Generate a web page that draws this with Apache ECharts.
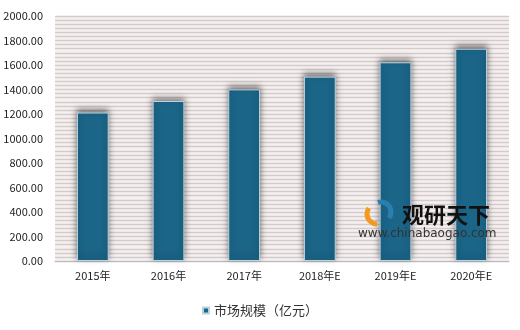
<!DOCTYPE html>
<html><head><meta charset="utf-8">
<script src="https://cdn.jsdelivr.net/npm/echarts@6/dist/echarts.min.js"></script>
<style>html,body{margin:0;padding:0;background:#fff}#c{width:520px;height:330px}</style>
</head><body><div id="c"></div>
<script>
const categories = ['2015年','2016年','2017年','2018年E','2019年E','2020年E'];
const marketSize = [1212, 1306, 1401, 1505, 1622, 1733];
const seriesName = '市场规模（亿元）';
const yTicks = {min: 0, max: 2000, interval: 200};

const chart = echarts.init(document.getElementById('c'));
const font = 'SimSun, "Noto Sans CJK SC", sans-serif';
chart.setOption({
  animation: false,
  grid: {left: 55, right: 11, top: 16, bottom: 69, show: true, backgroundColor: '#f7f0f0', borderWidth: 0},
  legend: {bottom: 8, left: 'center', data: [seriesName], icon: 'rect', itemWidth: 6, itemHeight: 6, itemGap: 4,
    textStyle: {color: '#333', fontSize: 13, fontFamily: font}},
  xAxis: {type: 'category', data: categories,
    axisLine: {lineStyle: {color: '#bbb'}}, axisTick: {show: false},
    axisLabel: {color: '#222', fontSize: 11, fontFamily: font, margin: 9}},
  yAxis: {type: 'value', min: yTicks.min, max: yTicks.max, interval: yTicks.interval,
    axisLine: {show: false}, axisTick: {show: false},
    axisLabel: {color: '#222', fontSize: 11, fontFamily: font, margin: 12, formatter: v => v.toFixed(2)},
    splitLine: {lineStyle: {color: '#d4cbcb', width: 1.3}},
    minorTick: {show: false, splitNumber: 6},
    minorSplitLine: {show: true, lineStyle: {color: '#d4cbcb', width: 1.3}}},
  series: [{name: seriesName, type: 'bar', data: marketSize, barWidth: '42%',
    itemStyle: {color: '#1b6588', borderColor: '#b9d3df', borderWidth: 1,
      shadowColor: 'rgba(0,0,0,0.5)', shadowBlur: 6, shadowOffsetY: -3}}],
  graphic: [
    {type: 'group', z: 100, children: [
      {type: 'text', left: 402, top: 204, z: 100, style: {text: '观研天下', font: 'bold 22px "Noto Sans CJK SC"', fill: '#111'}},
      {type: 'text', left: 358, top: 228, z: 100, style: {text: 'www.chinabaogao.com', font: '12px "DejaVu Sans"', fill: '#333'}},
      {type: 'arc', z: 100, shape: {cx: 377, cy: 214, r: 10, startAngle: Math.PI*0.5, endAngle: Math.PI*1.2}, style: {stroke: '#f39a1e', lineWidth: 5, fill: null}},
      {type: 'arc', z: 100, shape: {cx: 381, cy: 212, r: 10, startAngle: -Math.PI*0.6, endAngle: Math.PI*0.2}, style: {stroke: '#2a7fb0', lineWidth: 5, fill: null}}
    ]}
  ]
});
</script></body></html>
